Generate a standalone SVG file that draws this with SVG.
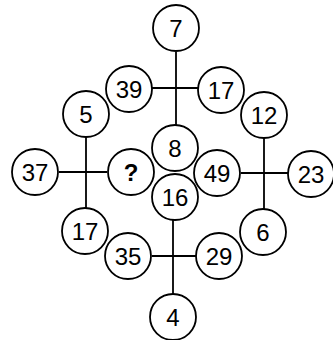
<svg xmlns="http://www.w3.org/2000/svg" width="333" height="340" viewBox="0 0 333 340">
<style>
.n circle{fill:#fff;stroke:#000;stroke-width:1.8}
.n text{font-family:"Liberation Sans",Arial,sans-serif;font-size:24px;fill:#000;text-anchor:middle}
#connectors line{stroke:#000;stroke-width:1.8}
</style>
<rect width="333" height="340" fill="#fff"/>
<g id="connectors">
<line x1="176" y1="52" x2="176" y2="125"/>
<line x1="152" y1="88" x2="198" y2="88"/>
<line x1="86" y1="137" x2="86" y2="208"/>
<line x1="59" y1="172" x2="107" y2="172"/>
<line x1="264" y1="138" x2="264" y2="209"/>
<line x1="241" y1="173" x2="288" y2="173"/>
<line x1="173" y1="220" x2="173" y2="294"/>
<line x1="152" y1="256" x2="196" y2="256"/>
</g>
<g id="n7" class="n"><circle cx="176" cy="28" r="23"/><text x="176" y="36.6">7</text></g>
<g id="n39" class="n"><circle cx="129" cy="89" r="23"/><text x="129" y="97.6">39</text></g>
<g id="n17a" class="n"><circle cx="221" cy="90" r="23"/><text x="221" y="98.6">17</text></g>
<g id="n5" class="n"><circle cx="86" cy="114" r="23"/><text x="86" y="122.6">5</text></g>
<g id="n12" class="n"><circle cx="264" cy="115" r="23"/><text x="264" y="123.6">12</text></g>
<g id="n8" class="n"><circle cx="175" cy="148" r="23"/><text x="175" y="156.6">8</text></g>
<g id="n37" class="n"><circle cx="35" cy="172" r="23"/><text x="35" y="180.6">37</text></g>
<g id="nq" class="n"><circle cx="131" cy="172" r="23"/><text x="131" y="180.6" font-weight="bold">?</text></g>
<g id="n49" class="n"><circle cx="217" cy="173" r="23"/><text x="217" y="181.6">49</text></g>
<g id="n23" class="n"><circle cx="311" cy="174" r="23"/><text x="311" y="182.6">23</text></g>
<g id="n16" class="n"><circle cx="175" cy="197" r="23"/><text x="175" y="205.6">16</text></g>
<g id="n17b" class="n"><circle cx="85" cy="231" r="23"/><text x="85" y="239.6">17</text></g>
<g id="n6" class="n"><circle cx="263" cy="232" r="23"/><text x="263" y="240.6">6</text></g>
<g id="n35" class="n"><circle cx="128" cy="256" r="23"/><text x="128" y="264.6">35</text></g>
<g id="n29" class="n"><circle cx="219" cy="256" r="23"/><text x="219" y="264.6">29</text></g>
<g id="n4" class="n"><circle cx="173" cy="317" r="23"/><text x="173" y="325.6">4</text></g>
</svg>
